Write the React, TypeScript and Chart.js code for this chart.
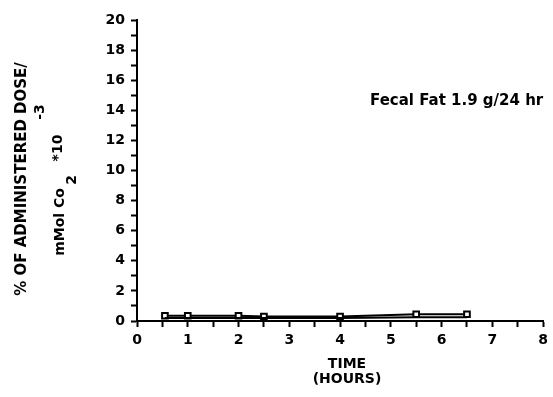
import React, { useEffect, useRef } from "react";
import { Chart, registerables } from "chart.js";

Chart.register(...registerables);

const timeHours = [0.55, 1, 2, 2.5, 4, 5.5, 6.5];
const markedSeries = [0.35, 0.35, 0.35, 0.3, 0.3, 0.45, 0.45];
const lowerSeries = [0.2, 0.2, 0.2, 0.2, 0.2, 0.25, 0.25];
const xTicks = [0, 1, 2, 3, 4, 5, 6, 7, 8];
const yTicks = [0, 2, 4, 6, 8, 10, 12, 14, 16, 18, 20];
const annotationText = "Fecal Fat 1.9 g/24 hr";
const xTitleLines = ["TIME", "(HOURS)"];
const yTitleLine1 = "% OF ADMINISTERED DOSE/";

const FONT = '"DejaVu Sans", "Liberation Sans", Arial, sans-serif';

const textPlugin = {
  id: "customText",
  afterDraw(chart: any) {
    const ctx = chart.ctx;
    ctx.save();
    ctx.fillStyle = "#000";
    // annotation
    ctx.font = `bold 15px ${FONT}`;
    ctx.textAlign = "left";
    ctx.textBaseline = "middle";
    ctx.fillText(annotationText, 370, 101);
    // x title
    ctx.textAlign = "center";
    ctx.font = `bold 14px ${FONT}`;
    ctx.fillText(xTitleLines[0], 347, 364);
    ctx.fillText(xTitleLines[1], 347, 379);
    // y title, rotated
    ctx.save();
    ctx.translate(22, 179);
    ctx.rotate(-Math.PI / 2);
    ctx.font = `bold 15px ${FONT}`;
    ctx.textAlign = "center";
    ctx.textBaseline = "middle";
    ctx.fillText(yTitleLine1, 0, 0);
    ctx.restore();
    // second line: mMol Co 2 *10 -3
    ctx.save();
    ctx.translate(60, 222);
    ctx.rotate(-Math.PI / 2);
    ctx.font = `bold 14px ${FONT}`;
    ctx.textAlign = "center";
    ctx.textBaseline = "middle";
    ctx.fillText("mMol Co", 0, 0);
    ctx.fillText("2", 42, 12);
    ctx.fillText("*10", 74, -2);
    ctx.fillText("-3", 110, -20);
    ctx.restore();
    ctx.restore();
  },
};

export default function App() {
  const ref = useRef<HTMLCanvasElement | null>(null);
  useEffect(() => {
    if (!ref.current) return;
    const chart = new Chart(ref.current, {
      type: "scatter",
      data: {
        datasets: [
          {
            data: timeHours.map((x, i) => ({ x, y: lowerSeries[i] })),
            showLine: true,
            borderColor: "#000",
            borderWidth: 2,
            pointRadius: 0,
          },
          {
            data: timeHours.map((x, i) => ({ x, y: markedSeries[i] })),
            showLine: true,
            borderColor: "#000",
            backgroundColor: "#fff",
            borderWidth: 2,
            pointStyle: "rect",
            pointRadius: 4,
            pointBorderWidth: 2,
            pointBackgroundColor: "#fff",
            pointBorderColor: "#000",
          },
        ],
      },
      options: {
        animation: false,
        responsive: false,
        maintainAspectRatio: false,
        layout: { padding: { left: 0, right: 6, top: 20, bottom: 0 } },
        plugins: { legend: { display: false }, tooltip: { enabled: false } },
        scales: {
          x: {
            type: "linear",
            min: 0,
            max: 8,
            afterFit: (s: any) => {
              s.height = 76;
            },
            afterBuildTicks: (s: any) => {
              const t: any[] = [];
              for (let v = 0; v <= 16; v++) t.push({ value: v / 2 });
              s.ticks = t;
            },
            ticks: {
              color: "#000",
              font: { family: FONT, size: 14, weight: "bold" },
              padding: 5,
              maxRotation: 0,
              autoSkip: false,
              callback: (v: any) => (xTicks.includes(Number(v)) ? String(v) : ""),
            },
            grid: {
              drawOnChartArea: false,
              drawTicks: true,
              tickLength: 6,
              tickWidth: 2,
              tickColor: "#000",
              color: "#000",
            },
            border: { display: true, color: "#000", width: 2 },
          },
          y: {
            type: "linear",
            min: 0,
            max: 20,
            afterFit: (s: any) => {
              s.width = 137;
            },
            afterBuildTicks: (s: any) => {
              const t: any[] = [];
              for (let v = 0; v <= 20; v++) t.push({ value: v });
              s.ticks = t;
            },
            ticks: {
              color: "#000",
              font: { family: FONT, size: 14, weight: "bold" },
              padding: 6,
              autoSkip: false,
              callback: (v: any) => (yTicks.includes(Number(v)) ? String(v) : ""),
            },
            grid: {
              drawOnChartArea: false,
              drawTicks: true,
              tickLength: 6,
              tickWidth: 2,
              tickColor: "#000",
              color: "#000",
            },
            border: { display: true, color: "#000", width: 2 },
          },
        },
      },
      plugins: [textPlugin],
    });
    return () => chart.destroy();
  }, []);
  return (
    <div style={{ position: "fixed", left: 0, top: 0, width: 553, height: 397, background: "#fff" }}>
      <canvas ref={ref} width={553} height={397} style={{ display: "block" }} />
    </div>
  );
}
